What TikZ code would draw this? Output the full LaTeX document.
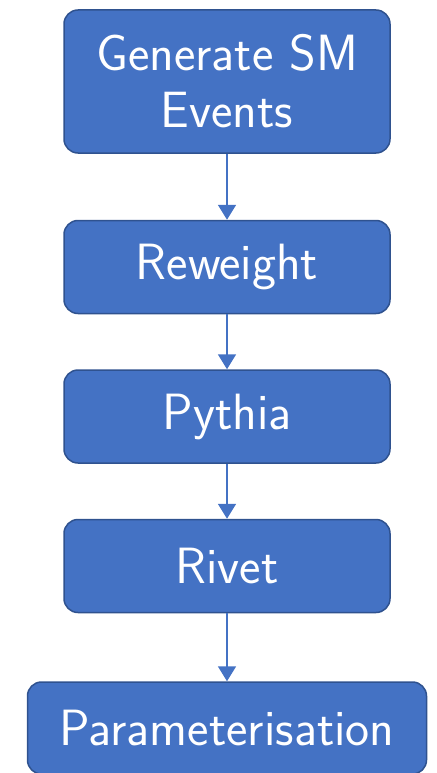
\documentclass[tikz,border=0pt]{standalone}
\usetikzlibrary{positioning,arrows.meta}

\definecolor{boxfill}{HTML}{4472C4}
\definecolor{boxline}{HTML}{2F528F}

\begin{document}
\begin{tikzpicture}[
    x=1pt, y=1pt,
    stepbox/.style={draw=boxline, fill=boxfill, line width=1.5pt, rounded corners=14pt,
        text=white, font=\sffamily\fontsize{51}{57}\selectfont, align=center,
        minimum width=326pt, minimum height=93pt, inner sep=0pt},
    flow/.style={-{Triangle[length=15pt, width=18pt]}, draw=boxfill, fill=boxfill, line width=1.8pt}
]
    \useasboundingbox (0,0) rectangle (436,-773);

    % Steps of the chain
    \node[stepbox, minimum height=143pt] (gen) at (227,-81.5) {Generate SM\\Events};
    \node[stepbox, below=66pt of gen] (rew) {Reweight};
    \node[stepbox, below=55pt of rew] (pyt) {Pythia};
    \node[stepbox, below=55pt of pyt] (riv) {Rivet};
    \node[stepbox, minimum width=399pt, minimum height=92pt, below=68pt of riv] (par) {Parameterisation};

    \draw[flow] (gen) -- (rew);
    \draw[flow] (rew) -- (pyt);
    \draw[flow] (pyt) -- (riv);
    \draw[flow] (riv) -- (par);
\end{tikzpicture}
\end{document}
